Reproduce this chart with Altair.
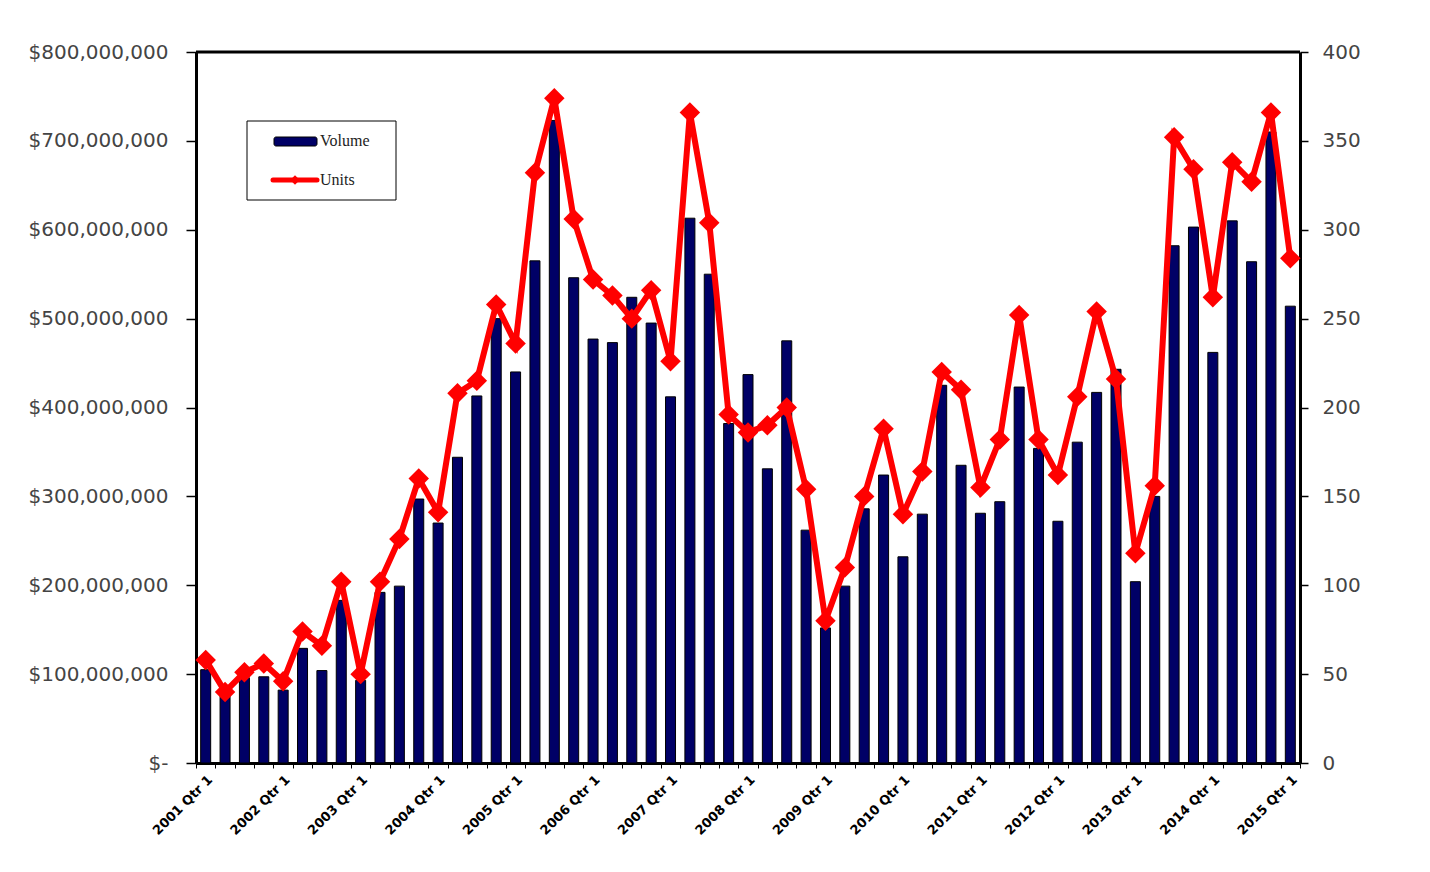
import altair as alt
import pandas as pd

quarters = [f"{y} Qtr {q}" for y in range(2001, 2016) for q in range(1, 5)][:57]

# Volume in millions of dollars
volume = [105, 79, 96, 97, 82, 129, 104, 183, 93, 192, 199, 297,
          270, 344, 413, 500, 440, 565, 723, 546, 477, 473, 524, 495,
          412, 613, 550, 382, 437, 331, 475, 262, 152, 199, 286, 324,
          232, 280, 425, 335, 281, 294, 423, 354, 272, 361, 417, 443,
          204, 300, 582, 603, 462, 610, 564, 710, 514]

units = [58, 40, 51, 56, 46, 74, 66, 102, 50, 102, 126, 160,
         141, 208, 215, 258, 236, 332, 374, 306, 272, 263, 250, 266,
         226, 366, 304, 196, 186, 190, 200, 154, 80, 110, 150, 188,
         140, 164, 220, 210, 155, 182, 252, 182, 162, 206, 254, 216,
         118, 156, 352, 334, 262, 338, 327, 366, 284]

df = pd.DataFrame({"quarter": quarters, "volume": volume, "units": units})

FONT = "DejaVu Sans"
NAVY = "#000066"
RED = "#ff0000"

x = alt.X(
    "quarter:N",
    sort=quarters,
    scale=alt.Scale(paddingInner=0, paddingOuter=0),
    axis=alt.Axis(
        title=None,
        labelAngle=-45,
        labelAlign="right",
        labelBaseline="top",
        labelExpr="indexof(datum.label, 'Qtr 1') >= 0 ? datum.label : ''",
        labelOverlap=False,
        labelFont=FONT,
        labelFontSize=13,
        labelFontWeight="bold",
        labelColor="#000000",
        labelPadding=5,
        tickBand="extent",
        tickSize=5,
        tickColor="#000000",
        domain=True,
        domainColor="#000000",
        domainWidth=3,
    ),
)

bars = alt.Chart(df).mark_bar(color=NAVY, stroke="#000000", strokeWidth=1, size=10).encode(
    x=x,
    y=alt.Y(
        "volume:Q",
        scale=alt.Scale(domain=[0, 800], nice=False),
        axis=alt.Axis(
            title=None,
            values=[0, 100, 200, 300, 400, 500, 600, 700, 800],
            labelExpr="datum.value == 0 ? '$-' : '$' + format(datum.value * 1000000, ',')",
            labelFont=FONT,
            labelFontSize=20,
            labelColor="#444444",
            labelPadding=18,
            tickSize=10,
            tickColor="#000000",
            tickWidth=1.5,
            grid=False,
            domain=True,
            domainColor="#000000",
            domainWidth=3,
            orient="left",
        ),
    ),
)

line = alt.Chart(df).mark_line(
    color=RED,
    strokeWidth=6,
    point=alt.OverlayMarkDef(shape="diamond", size=420, filled=True, color=RED),
).encode(
    x=x,
    y=alt.Y(
        "units:Q",
        scale=alt.Scale(domain=[0, 400], nice=False),
        axis=alt.Axis(
            title=None,
            values=[0, 50, 100, 150, 200, 250, 300, 350, 400],
            labelFont=FONT,
            labelFontSize=20,
            labelColor="#444444",
            labelPadding=14,
            tickSize=8,
            tickColor="#000000",
            tickWidth=1.5,
            grid=False,
            domain=True,
            domainColor="#000000",
            domainWidth=3,
            orient="right",
        ),
    ),
)

one = pd.DataFrame({"k": [0]})
top_frame = alt.Chart(one).mark_rule(color="#000000", strokeWidth=3).encode(
    x=alt.value(0), x2=alt.value(1104), y=alt.value(0)
)
legend_box = alt.Chart(one).mark_rect(fill="#ffffff", stroke="#000000", strokeWidth=1).encode(
    x=alt.value(51), x2=alt.value(200), y=alt.value(69), y2=alt.value(148)
)
legend_swatch = alt.Chart(one).mark_rect(fill=NAVY, stroke="#000000", strokeWidth=1, cornerRadius=2).encode(
    x=alt.value(78), x2=alt.value(121), y=alt.value(85), y2=alt.value(94)
)
legend_line = alt.Chart(one).mark_rule(color=RED, strokeWidth=5, strokeCap="round").encode(
    x=alt.value(77), x2=alt.value(121), y=alt.value(128)
)
legend_pt = alt.Chart(one).mark_point(shape="diamond", size=90, filled=True, color=RED, opacity=1).encode(
    x=alt.value(99), y=alt.value(128)
)
legend_text = alt.Chart(pd.DataFrame({"t": ["Volume", "Units"], "yy": [89, 128]})).mark_text(
    font="Liberation Serif", fontSize=16, color="#222222", align="left", baseline="middle"
).encode(
    x=alt.value(124), y=alt.Y("yy:Q", scale=None), text="t:N"
)

chart = alt.layer(
    bars, line, top_frame, legend_box, legend_swatch, legend_line, legend_pt, legend_text
).resolve_scale(y="independent").properties(
    width=1104,
    height=711,
    padding={"left": 188, "top": 44, "right": 80, "bottom": 80},
    autosize=alt.AutoSizeParams(type="none"),
    background="#ffffff",
).configure_view(
    stroke=None
)

chart.save("out.html", embed_options={"renderer": "svg", "actions": False})
